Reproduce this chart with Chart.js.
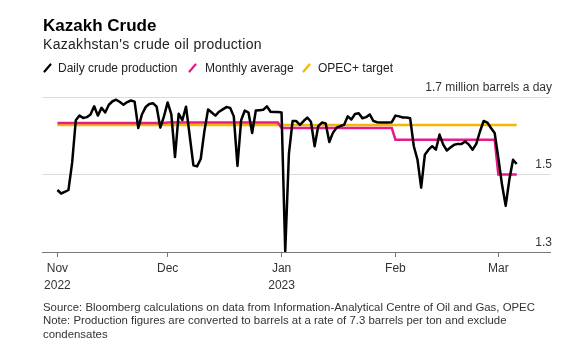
<!DOCTYPE html>
<html>
<head>
<meta charset="utf-8">
<script src="https://cdn.jsdelivr.net/npm/chart.js@4.4.0/dist/chart.umd.min.js"></script>
<style>
  html, body { margin:0; padding:0; background:#fff; }
  body { width:588px; height:357px; position:relative; overflow:hidden; font-family:"Liberation Sans", Arial, Helvetica, sans-serif; }
  #c { position:absolute; left:0; top:0; }
  .t { position:absolute; white-space:nowrap; line-height:1; }
  #title { left:43px; top:16.6px; font-size:17px; font-weight:bold; color:#000; }
  #sub { left:43px; top:37px; font-size:14px; color:#222; letter-spacing:0.3px; }
  .leg { position:absolute; top:61.5px; font-size:12px; color:#222; white-space:nowrap; line-height:1; }
  .ico { position:absolute; top:63px; }
  #foot { position:absolute; left:43px; top:301px; font-size:11.4px; line-height:13.4px; color:#333; width:530px; }
</style>
</head>
<body>
<canvas id="c" width="588" height="357"></canvas>
<div id="title" class="t">Kazakh Crude</div>
<div id="sub" class="t">Kazakhstan's crude oil production</div>
<svg class="ico" style="left:43px" width="9" height="10"><line x1="1.5" y1="8.5" x2="7.5" y2="1.5" stroke="#000" stroke-width="2.2" stroke-linecap="round"/></svg>
<div class="leg" style="left:58px">Daily crude production</div>
<svg class="ico" style="left:188px" width="9" height="10"><line x1="1.5" y1="8.5" x2="7.5" y2="1.5" stroke="#e8198b" stroke-width="2.2" stroke-linecap="round"/></svg>
<div class="leg" style="left:205px">Monthly average</div>
<svg class="ico" style="left:302px" width="9" height="10"><line x1="1.5" y1="8.5" x2="7.5" y2="1.5" stroke="#f5b800" stroke-width="2.2" stroke-linecap="round"/></svg>
<div class="leg" style="left:318px">OPEC+ target</div>
<div id="foot">Source: Bloomberg calculations on data from Information-Analytical Centre of Oil and Gas, OPEC<br>Note: Production figures are converted to barrels at a rate of 7.3 barrels per ton and exclude<br>condensates</div>
<script>
// Daily crude production, million barrels a day, one value per day from 2022-11-01 (day 0)
const dailyProduction = [
  // Nov 2022 (days 0-29)
  1.460, 1.451, 1.455, 1.460, 1.530, 1.640, 1.652, 1.646, 1.648, 1.655,
  1.676, 1.652, 1.672, 1.660, 1.680, 1.689, 1.693, 1.687, 1.680, 1.687,
  1.691, 1.688, 1.620, 1.655, 1.674, 1.682, 1.684, 1.675, 1.621, 1.650,
  // Dec 2022 (days 30-60)
  1.686, 1.655, 1.545, 1.657, 1.640, 1.675, 1.600, 1.524, 1.521, 1.540,
  1.612, 1.668, 1.660, 1.652, 1.662, 1.668, 1.674, 1.672, 1.650, 1.522,
  1.640, 1.665, 1.660, 1.607, 1.665, 1.666, 1.667, 1.676, 1.662, 1.661,
  1.661,
  // Jan 2023 (days 61-91)
  1.660, 1.302, 1.553, 1.638, 1.638, 1.628, 1.638, 1.647, 1.636, 1.573,
  1.625, 1.634, 1.632, 1.584, 1.608, 1.621, 1.625, 1.628, 1.650, 1.642,
  1.656, 1.658, 1.645, 1.648, 1.655, 1.638, 1.635, 1.634, 1.634, 1.634,
  1.635,
  // Feb 2023 (days 92-119)
  1.652, 1.650, 1.647, 1.647, 1.645, 1.573, 1.538, 1.466, 1.551, 1.564,
  1.573, 1.564, 1.603, 1.577, 1.562, 1.570, 1.577, 1.579, 1.579, 1.585,
  1.577, 1.564, 1.579, 1.611, 1.638, 1.634, 1.620, 1.607,
  // Mar 2023 (days 120-125)
  1.543, 1.474, 1.419, 1.487, 1.538, 1.527
];

// Monthly averages (Nov, Dec, Jan, Feb, Mar) and the day each month starts
const monthStartDays = [0, 30, 61, 92, 120];
const monthlyAverage = [1.633, 1.634, 1.620, 1.590, 1.500];

// OPEC+ production target
const opecTarget = 1.628;

// Axis ticks
const xTickDays = [0, 30, 61, 92, 120];
const xTickLabels = [['Nov', '2022'], ['Dec'], ['Jan', '2023'], ['Feb'], ['Mar']];
const yTickValues = [1.3, 1.5, 1.7];
const yTickLabels = ['1.3', '1.5', '1.7 million barrels a day'];

// ---- build datasets from the arrays ----
const dailyPts = dailyProduction.map((v, i) => ({ x: i, y: v }));
const avgPts = dailyProduction.map((v, i) => {
  let m = 0;
  for (let k = 0; k < monthStartDays.length; k++) if (i >= monthStartDays[k]) m = k;
  return { x: i, y: monthlyAverage[m] };
});
const lastDay = dailyProduction.length - 1;
const targetPts = [{ x: 0, y: opecTarget }, { x: lastDay, y: opecTarget }];

const yLabelPlugin = {
  id: 'yLabels',
  afterDraw(chart) {
    const { ctx, chartArea, scales } = chart;
    ctx.save();
    ctx.font = '12px "Liberation Sans", Arial, sans-serif';
    ctx.fillStyle = '#333';
    ctx.textAlign = 'right';
    ctx.textBaseline = 'alphabetic';
    yTickValues.forEach((v, i) => {
      const y = scales.y.getPixelForValue(v);
      ctx.fillText(yTickLabels[i], chartArea.right + 1.5, y - 6.5);
    });
    ctx.restore();
  }
};

new Chart(document.getElementById('c'), {
  type: 'line',
  data: {
    datasets: [
      { label: 'Daily crude production', data: dailyPts, borderColor: '#000', borderWidth: 2.5, pointRadius: 0, tension: 0, borderJoinStyle: 'round', order: 0 },
      { label: 'Monthly average', data: avgPts, borderColor: '#e8198b', borderWidth: 2.5, pointRadius: 0, tension: 0, order: 1 },
      { label: 'OPEC+ target', data: targetPts, borderColor: '#f5b800', borderWidth: 2.5, pointRadius: 0, tension: 0, order: 2 }
    ]
  },
  options: {
    responsive: false,
    animation: false,
    events: [],
    layout: { padding: { left: 42, right: 37.5, top: 97, bottom: 60 } },
    plugins: { legend: { display: false }, tooltip: { enabled: false }, title: { display: false } },
    scales: {
      x: {
        type: 'linear',
        min: -4.2,
        max: 134.2,
        afterBuildTicks: (s) => { s.ticks = xTickDays.map(v => ({ value: v })); },
        afterFit: (s) => { s.height = 45; },
        ticks: {
          autoSkip: false,
          maxRotation: 0,
          padding: 4,
          color: '#333',
          font: { family: '"Liberation Sans", Arial, sans-serif', size: 12, lineHeight: 1.35 },
          callback: (v) => { const i = xTickDays.indexOf(v); return i >= 0 ? xTickLabels[i] : ''; }
        },
        grid: { drawOnChartArea: false, drawTicks: true, tickLength: 5, tickColor: '#777', tickWidth: 1 },
        border: { display: true, color: '#777', width: 1 }
      },
      y: {
        type: 'linear',
        min: 1.3,
        max: 1.7,
        afterBuildTicks: (s) => { s.ticks = yTickValues.map(v => ({ value: v })); },
        afterFit: (s) => { s.width = 0; },
        ticks: { display: false },
        grid: { color: '#dcdcdc', lineWidth: 1, drawTicks: false },
        border: { display: false }
      }
    }
  },
  plugins: [yLabelPlugin]
});
</script>
</body>
</html>
